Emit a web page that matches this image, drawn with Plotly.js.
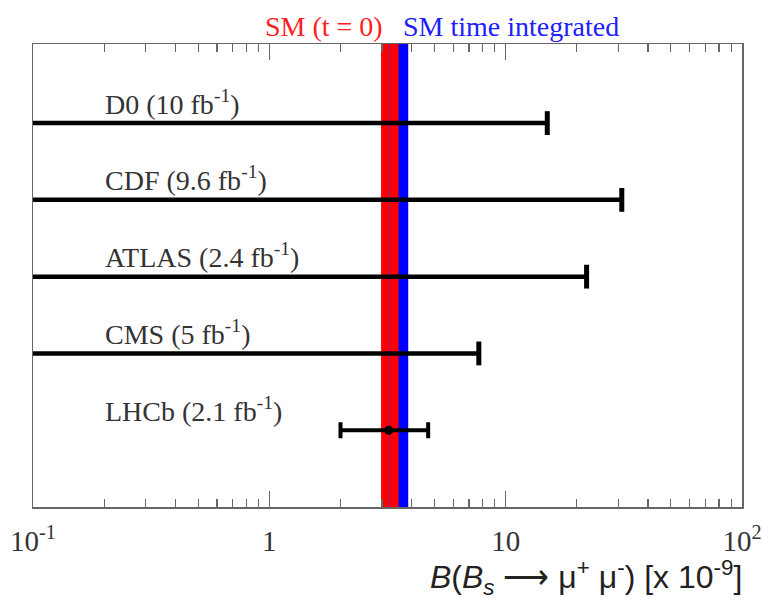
<!DOCTYPE html>
<html>
<head>
<meta charset="utf-8">
<script src="https://cdn.plot.ly/plotly-3.0.1.min.js"></script>
<style>html,body{margin:0;padding:0;background:#fff;}#chart{width:763px;height:599px;}</style>
</head>
<body>
<div id="chart"></div>
<script>
// ---- data ----
const experiments = ['D0 (10 fb<sup>-1</sup>)', 'CDF (9.6 fb<sup>-1</sup>)', 'ATLAS (2.4 fb<sup>-1</sup>)', 'CMS (5 fb<sup>-1</sup>)', 'LHCb (2.1 fb<sup>-1</sup>)'];
const rowPos = [5, 4, 3, 2, 1];
const upperLimits = [15, 31, 22, 7.7, null];   // x 10^-9, 95% CL
const lhcbValue = 3.2;
const lhcbErrPlus = 1.5;
const lhcbErrMinus = 1.2;
const smT0Band = [2.97, 3.52];        // SM (t = 0)
const smIntBand = [3.24, 3.87];       // SM time integrated
const smCentral = 3.23;
const xMin = 0.1, xMax = 100;
const yMin = 0, yMax = 6.03;
const majorTicks = [0.1, 1, 10, 100];
const majorTickText = ['10<sup>-1</sup>', '1', '10', '10<sup>2</sup>'];
const minorTicks = [0.2,0.3,0.4,0.5,0.6,0.7,0.8,0.9, 2,3,4,5,6,7,8,9, 20,30,40,50,60,70,80,90];

const serif = '"Liberation Serif", "Times New Roman", serif';
const traces = [];

// bands
function band(lo, hi, color) {
  return {x: [lo, hi, hi, lo, lo], y: [yMin, yMin, yMax, yMax, yMin], type: 'scatter', mode: 'lines',
          fill: 'toself', fillcolor: color, line: {width: 0, color: color}, hoverinfo: 'skip', xaxis: 'x', yaxis: 'y'};
}
traces.push(band(smIntBand[0], smIntBand[1], '#0000ff'));
traces.push(band(smT0Band[0], smT0Band[1], '#ff0000'));
traces.push({x: [smCentral, smCentral], y: [yMin, yMax], type: 'scatter', mode: 'lines',
             line: {width: 1, color: '#7a1fa0'}, hoverinfo: 'skip'});

// upper limits
upperLimits.forEach((lim, i) => {
  if (lim === null) return;
  traces.push({x: [xMin, lim], y: [rowPos[i], rowPos[i]], type: 'scatter', mode: 'lines',
               line: {width: 4.5, color: '#000'}, hoverinfo: 'skip'});
  traces.push({x: [lim], y: [rowPos[i]], type: 'scatter', mode: 'markers',
               marker: {symbol: 'line-ns', size: 17, line: {width: 5, color: '#000'}}, hoverinfo: 'skip'});
});

// LHCb measurement
traces.push({x: [lhcbValue], y: [rowPos[4]], type: 'scatter', mode: 'markers',
             marker: {symbol: 'circle', size: 9, color: '#000'},
             error_x: {type: 'data', symmetric: false, array: [lhcbErrPlus], arrayminus: [lhcbErrMinus],
                       color: '#000', thickness: 4, width: 8}});

// minor ticks axis helper trace (invisible)
traces.push({x: [xMin], y: [yMin], xaxis: 'x2', type: 'scatter', mode: 'markers', marker: {opacity: 0}, hoverinfo: 'skip'});

const annotations = experiments.map((t, i) => ({
  text: t, xref: 'paper', yref: 'y', x: 0.0987, y: rowPos[i], xanchor: 'left', yanchor: 'middle',
  yshift: 21, showarrow: false, font: {family: serif, size: 28, color: '#333'}
}));
annotations.push({text: 'SM (t = 0)', xref: 'paper', yref: 'paper', x: (385 - 33) / 709, y: 1, xanchor: 'right', yanchor: 'bottom',
  yshift: 0, showarrow: false, font: {family: serif, size: 28, color: '#ff2020'}});
annotations.push({text: 'SM time integrated', xref: 'paper', yref: 'paper', x: (401 - 33) / 709, y: 1, xanchor: 'left', yanchor: 'bottom',
  yshift: 0, showarrow: false, font: {family: serif, size: 28, color: '#2020ff'}});
annotations.push({text: '<i>B</i>(<i>B</i><sub><i>s</i></sub> ⟶ μ<sup>+</sup> μ<sup>-</sup>) [x 10<sup>-9</sup>]',
  xref: 'paper', yref: 'paper', x: 1.003, y: 0, xanchor: 'right', yanchor: 'top', yshift: -46, showarrow: false,
  font: {family: 'Liberation Sans, Arial, sans-serif', size: 32, color: '#222'}});

const layout = {
  width: 763, height: 599,
  margin: {l: 33, r: 21, t: 44, b: 92, pad: 0},
  paper_bgcolor: '#fff', plot_bgcolor: '#fff',
  showlegend: false,
  xaxis: {type: 'log', range: [Math.log10(xMin), Math.log10(xMax)], showgrid: false, zeroline: false,
          showline: true, linecolor: '#666', linewidth: 1.5, mirror: 'ticks',
          ticks: 'inside', ticklen: 16, tickwidth: 1.2, tickcolor: '#666',
          tickmode: 'array', tickvals: majorTicks, ticktext: majorTickText,
          ticklabelstandoff: 8,
          tickfont: {family: serif, size: 29, color: '#333'}},
  xaxis2: {type: 'log', overlaying: 'x', anchor: 'y', side: 'bottom', range: [Math.log10(xMin), Math.log10(xMax)],
           showgrid: false, zeroline: false, showline: false, mirror: 'ticks',
           ticks: 'inside', ticklen: 8, tickwidth: 1.2, tickcolor: '#666',
           tickmode: 'array', tickvals: minorTicks, showticklabels: false},
  yaxis: {range: [yMin, yMax], showgrid: false, zeroline: false, showticklabels: false, ticks: '',
          showline: true, linecolor: '#666', linewidth: 1.5, mirror: true},
  annotations: annotations
};

Plotly.newPlot('chart', traces, layout, {staticPlot: true, displayModeBar: false});
</script>
</body>
</html>
